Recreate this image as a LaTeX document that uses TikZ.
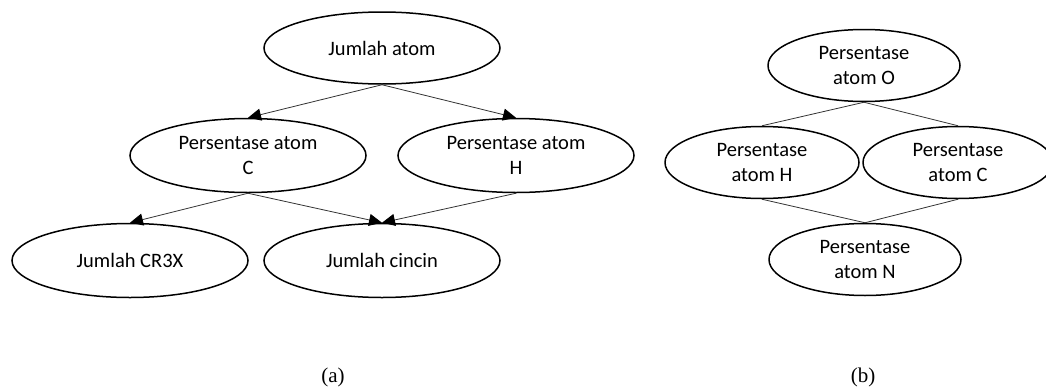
\documentclass[tikz,border=0pt]{standalone}
\usepackage{fontspec}
\setmainfont{Carlito}
\newfontfamily\capfont{Liberation Serif}
\usetikzlibrary{shapes.geometric,arrows.meta}
\tikzset{
  oval/.style={ellipse, draw=black, line width=1.5pt, inner sep=0pt,
    align=center, font=\fontsize{20.5}{25}\selectfont},
  wide/.style={minimum width=236pt, minimum height=74pt},
  narrow/.style={minimum width=192pt, minimum height=72pt},
  link/.style={draw=black!80, line width=0.8pt},
  arrowlink/.style={link, -{Triangle[length=13pt,width=12pt,color=black]}},
  caption/.style={font=\capfont\fontsize{21}{24}\selectfont}
}
\begin{document}
\begin{tikzpicture}[x=1pt,y=-1pt]
\useasboundingbox (0,0) rectangle (1046,388);

% (a) directed graph
\node[oval,wide,minimum height=72pt] (ja) at (382,48) {Jumlah atom};
\node[oval,wide] (pc) at (248,155.5) {Persentase atom\\C};
\node[oval,wide] (ph) at (516,155.5) {Persentase atom\\H};
\node[oval,wide] (cr) at (130,260.5) {Jumlah CR3X};
\node[oval,wide] (ci) at (382,260.5) {Jumlah cincin};

\draw[arrowlink] (ja.south) -- (pc.north);
\draw[arrowlink] (ja.south) -- (ph.north);
\draw[arrowlink] (pc.south) -- (cr.north);
\draw[arrowlink] (pc.south) -- (ci.north);
\draw[arrowlink] (ph.south) -- (ci.north);

% (b) undirected graph
\node[oval,narrow] (po) at (864,65.5) {Persentase\\atom O};
\node[oval,narrow,minimum width=194pt] (pH) at (762,162.5) {Persentase\\atom H};
\node[oval,narrow,minimum width=190pt] (pC) at (958,162.5) {Persentase\\atom C};
\node[oval,narrow] (pn) at (865,259.5) {Persentase\\atom N};

\draw[link] (po.south) -- (pH.north);
\draw[link] (po.south) -- (pC.north);
\draw[link] (pH.south) -- (pn.north);
\draw[link] (pC.south) -- (pn.north);

% sub-figure captions
\node[caption] (capa) at (333,377) {(a)};
\node[caption] (capb) at (863,377) {(b)};
\end{tikzpicture}
\end{document}
